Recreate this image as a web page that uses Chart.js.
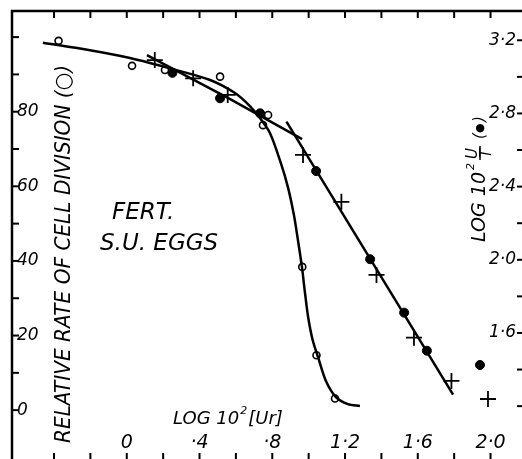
<!DOCTYPE html>
<html>
<head>
<meta charset="utf-8">
<script src="https://cdn.jsdelivr.net/npm/chart.js@4.4.0/dist/chart.umd.min.js"></script>
<style>
  html, body { margin: 0; padding: 0; background: #fff; overflow: hidden; }
  #wrap { width: 522px; height: 459px; }
</style>
</head>
<body>
<div id="wrap"><canvas id="fig"></canvas></div>
<script>
// log 10^2 [Ur] on x, relative rate (%) on the left, log 10^2 U/T on the right

// open circles: relative rate of cell division
const openX = [-0.375, 0.029, 0.210, 0.513, 0.777, 0.749, 0.965, 1.043, 1.145];
const openY = [99.0, 92.3, 91.2, 89.4, 79.1, 76.4, 38.4, 14.7, 3.1];

// filled circles: log 10^2 U/T
const filledX = [0.251, 0.513, 0.733, 1.041, 1.338, 1.525, 1.650, 1.942];
const filledY = [3.022, 2.883, 2.801, 2.485, 2.003, 1.711, 1.503, 1.425];

// crosses: log 10^2 U/T
const crossX = [0.154, 0.365, 0.555, 0.969, 1.180, 1.373, 1.579, 1.785, 1.986];
const crossY = [3.092, 2.992, 2.901, 2.573, 2.317, 1.917, 1.574, 1.338, 1.239];

// hand drawn curve through the open circles
const curveX = [-0.461, -0.202, 0.018, 0.255, 0.458, 0.595, 0.677, 0.732, 0.787, 0.842, 0.886,
                0.919, 0.941, 0.963, 0.980, 0.998, 1.022, 1.053, 1.095, 1.150, 1.216, 1.282];
const curveY = [98.5, 96.5, 94.4, 91.4, 88.5, 85.0, 81.5, 78.3, 74.3, 67.0, 59.8,
                52.3, 45.6, 38.4, 31.4, 24.7, 18.8, 14.0, 7.8, 3.5, 1.6, 1.1];

// two straight lines through the U/T points
const upperX = [0.111, 0.566, 0.964];
const upperY = [3.119, 2.880, 2.660];
const steepX = [0.878, 1.794];
const steepY = [2.755, 1.263];

// axis ticks and labels
const xTicks = [-0.4, -0.2, 0, 0.2, 0.4, 0.6, 0.8, 1.0, 1.2, 1.4, 1.6, 1.8, 2.0];
const xLabelVals = [0, 0.4, 0.8, 1.2, 1.6, 2.0];
const xLabels = ['0', '\u00b74', '\u00b78', '1\u00b72', '1\u00b76', '2\u00b70'];
const leftTicks = [100, 90, 80, 70, 60, 50, 40, 30, 20, 10, 0];
const leftLabelVals = [80, 60, 40, 20, 0];
const leftLabels = ['80', '60', '40', '20', '0'];
const rightTicks = [3.2, 3.0, 2.8, 2.6, 2.4, 2.2, 2.0, 1.8, 1.6, 1.4, 1.2];
const rightLabelVals = [3.2, 2.8, 2.4, 2.0, 1.6];
const rightLabels = ['3\u00b72', '2\u00b78', '2\u00b74', '2\u00b70', '1\u00b76'];

function pts(xs, ys) {
    return xs.map((x, i) => ({ x: x, y: ys[i] }));
}

const FONT = '"DejaVu Sans", sans-serif';

const framePlugin = {
    id: 'frame',
    afterDraw(chart) {
        const ctx = chart.ctx;
        const a = chart.chartArea;
        const sx = chart.scales.x, sy = chart.scales.y, sy2 = chart.scales.y2;
        ctx.save();
        ctx.strokeStyle = '#000';
        ctx.fillStyle = '#000';
        ctx.lineWidth = 2.5;
        ctx.lineCap = 'butt';

        // frame: left and top
        ctx.beginPath();
        ctx.moveTo(a.left, a.bottom);
        ctx.lineTo(a.left, a.top);
        ctx.lineTo(a.right, a.top);
        ctx.stroke();

        ctx.lineWidth = 2;
        // top and bottom ticks
        xTicks.forEach(v => {
            const px = sx.getPixelForValue(v);
            ctx.beginPath();
            ctx.moveTo(px, a.top);
            ctx.lineTo(px, a.top + 7);
            ctx.moveTo(px, a.bottom);
            ctx.lineTo(px, a.bottom - 6);
            ctx.stroke();
        });
        // left ticks
        leftTicks.forEach(v => {
            const py = sy.getPixelForValue(v);
            ctx.beginPath();
            ctx.moveTo(a.left, py);
            ctx.lineTo(a.left + 7, py);
            ctx.stroke();
        });
        // right ticks
        rightTicks.forEach(v => {
            const py = sy2.getPixelForValue(v);
            ctx.beginPath();
            ctx.moveTo(a.right, py);
            ctx.lineTo(a.right - 5, py);
            ctx.stroke();
        });

        // tick labels
        ctx.font = 'italic 17px ' + FONT;
        ctx.textBaseline = 'middle';
        ctx.textAlign = 'left';
        leftLabelVals.forEach((v, i) => {
            ctx.fillText(leftLabels[i], a.left + 5, sy.getPixelForValue(v));
        });
        ctx.textAlign = 'right';
        rightLabelVals.forEach((v, i) => {
            ctx.fillText(rightLabels[i], a.right - 6, sy2.getPixelForValue(v));
        });
        ctx.font = 'italic 19px ' + FONT;
        ctx.textAlign = 'center';
        xLabelVals.forEach((v, i) => {
            ctx.fillText(xLabels[i], sx.getPixelForValue(v), 443);
        });

        // x title
        ctx.font = 'italic 18px ' + FONT;
        ctx.textAlign = 'left';
        ctx.fillText('LOG 10', 173, 419);
        let w = ctx.measureText('LOG 10').width;
        ctx.font = 'italic 11px ' + FONT;
        ctx.fillText('2', 173 + w + 1, 411);
        ctx.font = 'italic 18px ' + FONT;
        ctx.fillText('[Ur]', 173 + w + 9, 419);

        // labels in the plot
        ctx.font = 'italic 23px ' + FONT;
        ctx.fillText('FERT.', 112, 213, 64);
        ctx.fillText('S.U. EGGS', 100, 244, 128);

        // left title
        ctx.save();
        ctx.translate(64, 254);
        ctx.rotate(-Math.PI / 2);
        ctx.font = 'italic 22px ' + FONT;
        ctx.textAlign = 'center';
        ctx.fillText('RELATIVE RATE OF CELL DIVISION (\u25cb)', 0, 0, 378);
        ctx.restore();

        // right title
        ctx.save();
        ctx.translate(478, 178);
        ctx.rotate(-Math.PI / 2);
        ctx.textAlign = 'left';
        ctx.font = 'italic 20px ' + FONT;
        let s = -64;
        ctx.fillText('LOG 10', s, 2, 70);
        s += 71;
        ctx.font = 'italic 11px ' + FONT;
        ctx.fillText('2', s + 1, -7);
        s += 12;
        ctx.font = 'italic 15px ' + FONT;
        ctx.fillText('U', s, -5);
        ctx.fillText('T', s + 1, 9);
        ctx.lineWidth = 1.5;
        ctx.beginPath();
        ctx.moveTo(s - 1, 2);
        ctx.lineTo(s + 13, 2);
        ctx.stroke();
        s += 20;
        ctx.font = 'italic 15px ' + FONT;
        ctx.fillText('(', s, 2);
        ctx.font = '11px ' + FONT;
        ctx.fillText('\u25cf', s + 6, 2);
        ctx.font = 'italic 15px ' + FONT;
        ctx.fillText(')', s + 17, 2);
        ctx.restore();

        ctx.restore();
    }
};

new Chart(document.getElementById('fig'), {
    type: 'scatter',
    data: {
        datasets: [
            {
                data: pts(curveX, curveY),
                yAxisID: 'y',
                showLine: true,
                borderColor: '#000',
                borderWidth: 2.5,
                tension: 0.3,
                pointRadius: 0
            },
            {
                data: pts(upperX, upperY),
                yAxisID: 'y2',
                showLine: true,
                borderColor: '#000',
                borderWidth: 2.5,
                pointRadius: 0
            },
            {
                data: pts(steepX, steepY),
                yAxisID: 'y2',
                showLine: true,
                borderColor: '#000',
                borderWidth: 2.5,
                pointRadius: 0
            },
            {
                data: pts(openX, openY),
                yAxisID: 'y',
                pointStyle: 'circle',
                pointRadius: 3.5,
                pointBorderWidth: 1.6,
                pointBorderColor: '#000',
                pointBackgroundColor: '#fff'
            },
            {
                data: pts(filledX, filledY),
                yAxisID: 'y2',
                pointStyle: 'circle',
                pointRadius: 4.5,
                pointBorderWidth: 1,
                pointBorderColor: '#000',
                pointBackgroundColor: '#000'
            },
            {
                data: pts(crossX, crossY),
                yAxisID: 'y2',
                pointStyle: 'cross',
                pointRadius: 8,
                pointBorderWidth: 1.8,
                pointBorderColor: '#000',
                pointBackgroundColor: '#000'
            }
        ]
    },
    options: {
        responsive: true,
        maintainAspectRatio: false,
        animation: false,
        layout: { autoPadding: false, padding: { left: 12, top: 11, right: 0, bottom: 0 } },
        plugins: {
            legend: { display: false },
            tooltip: { enabled: false }
        },
        scales: {
            x: { type: 'linear', min: -0.631, max: 2.173, display: false },
            y: { type: 'linear', min: -13.1, max: 107.0, display: false },
            y2: { type: 'linear', position: 'right', min: 0.911, max: 3.36, display: false }
        }
    },
    plugins: [framePlugin]
});
</script>
</body>
</html>
